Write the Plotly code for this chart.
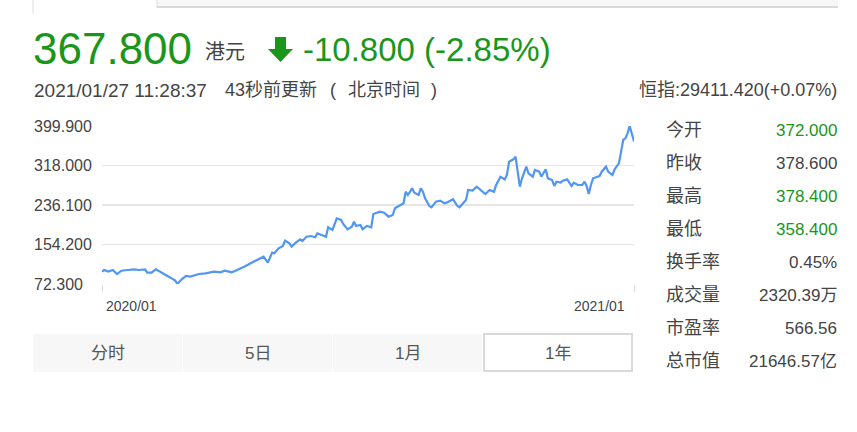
import plotly.graph_objects as go

# ---- one-year daily closes (session index from 2020/01/27 to 2021/01/27) ----
session = [0, 1, 3, 5, 7, 9, 12, 15, 17, 20, 21, 23, 25, 27, 29, 31, 34, 35, 37, 39,
           41, 43, 45, 48, 50, 52, 55, 57, 59, 60, 61, 63, 66, 69, 72, 75, 77, 79, 80, 82,
           84, 85, 87, 88, 90, 92, 93, 95, 97, 99, 100, 102, 104, 105, 107, 109, 111, 112, 114, 116,
           117, 118, 120, 121, 123, 125, 126, 129, 131, 133, 135, 136, 138, 140, 141, 142, 144, 145, 147, 148,
           149, 150, 152, 153, 155, 157, 159, 160, 163, 165, 166, 167, 169, 170, 172, 174, 176, 178, 180, 182,
           183, 185, 187, 188, 189, 191, 192, 194, 195, 197, 198, 200, 201, 203, 204, 206, 207, 209, 210, 211,
           213, 214, 216, 218, 219, 221, 223, 224, 225, 226, 227, 228, 231, 232, 234, 235, 237, 238, 240, 241,
           242, 243, 244, 245, 246, 247]
close = [97.9, 101.3, 97.9, 101.3, 93.0, 99.9, 101.3, 102.7, 101.3, 102.7, 95.8, 95.8, 102.7, 97.9, 93.0, 87.5, 79.2, 72.3, 82.0, 88.9,
         87.5, 91.0, 93.0, 94.4, 95.8, 97.9, 96.5, 99.9, 97.9, 96.5, 97.9, 102.7, 108.2, 115.2, 122.1, 129.0, 116.5, 137.3, 135.9, 146.3,
         151.1, 162.2, 156.6, 149.7, 158.0, 164.9, 161.5, 170.4, 171.8, 169.1, 177.4, 173.9, 170.4, 189.8, 184.3, 208.5, 205.0, 196.7, 185.6, 191.2,
         201.5, 192.6, 194.6, 185.6, 192.6, 189.8, 217.4, 222.3, 220.2, 211.9, 215.4, 229.2, 234.0, 239.6, 263.7, 256.8, 270.7, 261.6, 256.8, 270.7,
         263.7, 249.9, 234.0, 231.3, 243.0, 245.1, 239.6, 241.0, 247.9, 234.0, 231.3, 236.1, 246.5, 267.2, 265.8, 274.1, 267.2, 258.9, 267.2, 263.7,
         277.6, 294.8, 289.3, 298.3, 325.9, 330.8, 336.3, 274.1, 291.4, 315.6, 301.8, 294.8, 308.7, 305.2, 294.8, 310.1, 291.4, 287.9, 275.5, 284.5,
         282.4, 286.5, 289.3, 275.5, 282.4, 277.6, 277.6, 284.5, 275.5, 258.9, 277.6, 291.4, 296.2, 305.2, 315.6, 305.2, 298.3, 310.1, 322.5, 343.2,
         370.9, 374.3, 384.7, 399.9, 381.2, 367.8]

y_ticks = [72.3, 154.2, 236.1, 318.0, 399.9]
y_tick_text = ["72.300", "154.200", "236.100", "318.000", "399.900"]
x_label_pos = [0, 231]
x_label_text = ["2020/01", "2021/01"]

quote_labels = ["今开", "昨收", "最高", "最低", "换手率", "成交量", "市盈率", "总市值"]
quote_values = ["372.000", "378.600", "378.400", "358.400", "0.45%", "2320.39万", "566.56", "21646.57亿"]
quote_down = [True, False, True, True, False, False, False, False]

range_tabs = ["分时", "5日", "1月", "1年"]

W, H = 857, 432
FONT = "Liberation Sans, Arial, Noto Sans CJK SC, sans-serif"
GREEN = "#1a961a"
GRAY = "#444444"
LINE = "#5096f2"
GRID = "#e6e6e6"


def px(x):
    return x / W


def py(y):
    return 1 - y / H


fig = go.Figure()
fig.add_trace(go.Scatter(x=session, y=close, mode="lines",
                         line=dict(color=LINE, width=2.2), hoverinfo="skip"))

shapes = []
annotations = []


def text(x, y, s, size, color=GRAY, anchor="left", **kw):
    annotations.append(dict(x=px(x), y=py(y), xref="paper", yref="paper", text=s,
                            showarrow=False, xanchor=anchor, yanchor="middle",
                            font=dict(family=FONT, size=size, color=color), **kw))


def rect(x0, y0, x1, y1, fill, line_color=None, lw=0):
    shapes.append(dict(type="rect", xref="paper", yref="paper",
                       x0=px(x0), x1=px(x1), y0=py(y1), y1=py(y0),
                       fillcolor=fill, line=dict(color=line_color or fill, width=lw), layer="below"))


# top tab strip
rect(157, -2, 838, 7, "#f7f7f7")
rect(157, 6, 838, 8, "#d9d9d9")
shapes.append(dict(type="line", xref="paper", yref="paper", x0=px(33), x1=px(33), y0=py(0), y1=py(14),
                   line=dict(color="#dddddd", width=1)))
shapes.append(dict(type="line", xref="paper", yref="paper", x0=px(157), x1=px(157), y0=py(0), y1=py(8),
                   line=dict(color="#dddddd", width=1)))

# header: price, change, timestamp
text(31, 48, "367.800", 44, GREEN)
text(203, 52, "港元", 20, GRAY)
arrow = "M {a},{b} L {c},{b} L {c},{d} L {e},{d} L {f},{g} L {h},{d} L {a},{d} Z".format(
    a=px(275), b=py(37), c=px(286), d=py(49), e=px(293), f=px(280.5), g=py(62), h=px(268))
shapes.append(dict(type="path", xref="paper", yref="paper", path=arrow,
                   fillcolor=GREEN, line=dict(color=GREEN, width=0)))
text(301, 49, "-10.800 (-2.85%)", 33, GREEN)
text(32, 90, "2021/01/27 11:28:37", 19, GRAY)
text(223, 90, "43秒前更新", 18, GRAY)
text(328, 90, "(", 18, GRAY)
text(346, 90, "北京时间", 18, GRAY)
text(429, 90, ")", 18, GRAY)
text(839, 90, "恒指:29411.420(+0.07%)", 18, GRAY, anchor="right")

# y tick labels, left aligned
for v, t in zip(y_ticks, y_tick_text):
    annotations.append(dict(x=px(32), y=v, xref="paper", yref="y", text=t, showarrow=False,
                            xanchor="left", yanchor="middle",
                            font=dict(family=FONT, size=16, color=GRAY)))

# x labels
for i, (xv, t) in enumerate(zip(x_label_pos, x_label_text)):
    annotations.append(dict(x=xv, y=py(306), xref="x", yref="paper", text=t, showarrow=False,
                            xanchor="left" if i == 0 else "center", yanchor="middle",
                            xshift=2 if i == 0 else 0,
                            font=dict(family=FONT, size=14, color=GRAY)))

# quote panel
for i, (lab, val, dn) in enumerate(zip(quote_labels, quote_values, quote_down)):
    yy = 130 + i * 33
    text(664, yy, lab, 18, GRAY)
    text(839, yy, val, 17, GREEN if dn else GRAY, anchor="right")

# range selector tabs
for i, lab in enumerate(range_tabs):
    x0 = 33 + i * 150
    if i < 3:
        rect(x0, 334, x0 + 149, 372, "#f7f7f7")
    else:
        rect(x0 + 1, 334, x0 + 149, 371, "#ffffff", "#d9d9d9", 2)
    text(x0 + 75, 353, lab, 17, "#555555", anchor="center")

fig.update_layout(
    width=W, height=H, autosize=False,
    margin=dict(l=0, r=0, t=0, b=0),
    paper_bgcolor="white", plot_bgcolor="white",
    showlegend=False,
    shapes=shapes, annotations=annotations,
    xaxis=dict(domain=[px(102), px(634)], range=[0, 247], tickvals=[0, 247], ticktext=["", ""],
               ticks="outside", ticklen=7, tickcolor="#dddddd", tickwidth=1,
               showgrid=False, zeroline=False, showline=False, fixedrange=True),
    yaxis=dict(domain=[py(284), py(126)], range=[72.3, 399.9], tickvals=y_ticks,
               showticklabels=False, showgrid=True, gridcolor=GRID, gridwidth=1.5,
               zeroline=False, showline=False, fixedrange=True),
)

fig.write_html("out.html", config={"displayModeBar": False, "staticPlot": True})
